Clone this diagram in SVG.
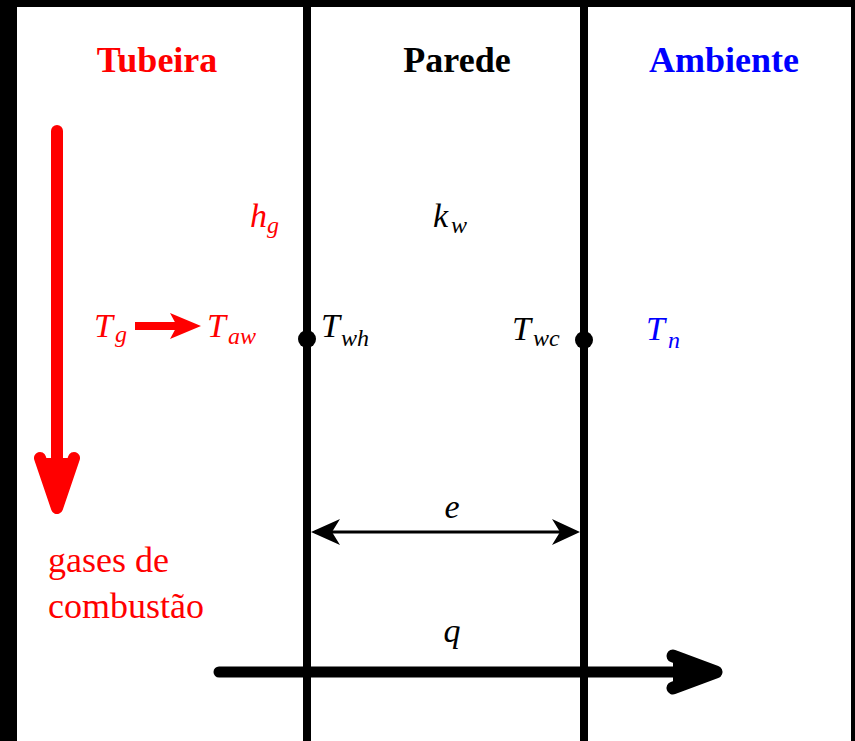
<svg xmlns="http://www.w3.org/2000/svg" width="855" height="741" viewBox="0 0 855 741">
<style>
.title{font-family:"Liberation Serif",serif;font-weight:bold;font-size:36px;text-anchor:middle}
.it{font-family:"Liberation Serif",serif;font-style:italic;font-size:34px}
.sub{font-family:"Liberation Serif",serif;font-style:italic;font-size:24px}
.reg{font-family:"Liberation Serif",serif;font-size:36px}
.red{fill:#ff0000}
.blue{fill:#0000ff}
.blk{fill:#000000}
.wall{stroke:#000;stroke-width:8;fill:none}
</style>
<rect x="0" y="0" width="855" height="741" fill="#000"/>
<rect x="17" y="7" width="834" height="734" fill="#fff"/>

<g id="wall-hot"><line class="wall" x1="307" y1="7" x2="307" y2="741"/><circle cx="307" cy="339" r="9" fill="#000"/></g>
<g id="wall-cold"><line class="wall" x1="584" y1="7" x2="584" y2="741"/><circle cx="584" cy="340" r="9" fill="#000"/></g>

<g id="connectors">
  <g id="gas-flow">
    <line x1="57" y1="131" x2="57" y2="500" stroke="#ff0000" stroke-width="12" stroke-linecap="round"/>
    <polyline points="40,458 57,508 74,458" fill="#ff0000" stroke="#ff0000" stroke-width="12" stroke-linecap="round" stroke-linejoin="round"/>
  </g>
  <g id="tg-to-taw">
    <line x1="135" y1="326" x2="180" y2="326" stroke="#ff0000" stroke-width="8"/>
    <polygon points="170,313 201,326 170,339 177,326" fill="#ff0000"/>
  </g>
  <g id="e-dim">
    <line x1="315" y1="532" x2="576" y2="532" stroke="#000" stroke-width="3"/>
    <polygon points="311,532 340,519 332,532 340,545" fill="#000"/>
    <polygon points="580,532 552,519 560,532 552,545" fill="#000"/>
  </g>
  <g id="q-flux">
    <line x1="219" y1="672" x2="712" y2="672" stroke="#000" stroke-width="11" stroke-linecap="round"/>
    <polyline points="673,656 716,672 673,688" fill="#000" stroke="#000" stroke-width="13" stroke-linecap="round" stroke-linejoin="round"/>
  </g>
</g>

<g id="tubeira">
  <text class="title red" x="157" y="72">Tubeira</text>
  <text class="reg red" x="48" y="572">gases de</text>
  <text class="reg red" x="48" y="618">combustão</text>
</g>
<g id="parede"><text class="title blk" x="457" y="72">Parede</text></g>
<g id="ambiente"><text class="title blue" x="724" y="72">Ambiente</text></g>

<g id="hg"><text class="it red" x="250" y="227">h</text><text class="sub red" x="267" y="233">g</text></g>
<g id="kw"><text class="it blk" x="433" y="227">k</text><text class="sub blk" x="451" y="233">w</text></g>
<g id="Tg"><text class="it red" x="94" y="337">T</text><text class="sub red" x="115" y="342">g</text></g>
<g id="Taw"><text class="it red" x="207" y="337">T</text><text class="sub red" x="228" y="344">aw</text></g>
<g id="Twh"><text class="it blk" x="321" y="337">T</text><text class="sub blk" x="341" y="346">wh</text></g>
<g id="Twc"><text class="it blk" x="512" y="340">T</text><text class="sub blk" x="533" y="346">wc</text></g>
<g id="Tn"><text class="it blue" x="646" y="340">T</text><text class="sub blue" x="668" y="348">n</text></g>
<g id="e-label"><text class="it blk" x="452" y="518" text-anchor="middle">e</text></g>
<g id="q-label"><text class="it blk" x="452" y="642" text-anchor="middle">q</text></g>
</svg>
